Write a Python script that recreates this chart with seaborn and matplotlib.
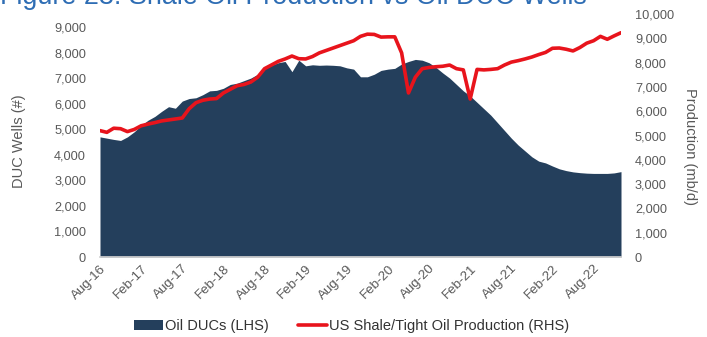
import numpy as np
import pandas as pd
import matplotlib
matplotlib.use("Agg")
import matplotlib.pyplot as plt
import seaborn as sns
from matplotlib.patches import Patch
from matplotlib.lines import Line2D

# ---- data ----
months = pd.date_range("2016-08-01", "2022-12-01", freq="MS")
duc_wells = [4700, 4650, 4600, 4560, 4700, 4900, 5150, 5350, 5500, 5700,
             5880, 5820, 6100, 6200, 6230, 6350, 6500, 6520, 6600, 6750,
             6800, 6900, 7000, 7150, 7350, 7500, 7600, 7650, 7250, 7700,
             7480, 7520, 7500, 7510, 7500, 7480, 7400, 7350, 7050, 7050,
             7150, 7300, 7350, 7380, 7550, 7650, 7730, 7700, 7600, 7420,
             7200, 7000, 6750, 6500, 6300, 6050, 5800, 5550, 5250, 4950,
             4650, 4380, 4150, 3920, 3750, 3680, 3560, 3450, 3380, 3330,
             3300, 3280, 3270, 3270, 3270, 3290, 3340]
production = [5200, 5130, 5300, 5280, 5160, 5250, 5400, 5470, 5530, 5600,
              5640, 5680, 5720, 6100, 6350, 6450, 6500, 6520, 6750, 6900,
              7050, 7100, 7200, 7400, 7750, 7900, 8050, 8150, 8270, 8160,
              8150, 8250, 8400, 8500, 8600, 8700, 8800, 8900, 9080, 9170,
              9160, 9050, 9060, 9060, 8400, 6750, 7400, 7750, 7800, 7830,
              7850, 7900, 7750, 7700, 6500, 7720, 7700, 7720, 7750, 7900,
              8020, 8080, 8150, 8230, 8330, 8420, 8590, 8600, 8550, 8480,
              8620, 8800, 8900, 9080, 8960, 9100, 9230]
left_ticks = [0, 1000, 2000, 3000, 4000, 5000, 6000, 7000, 8000, 9000]
right_ticks = [0, 1000, 2000, 3000, 4000, 5000, 6000, 7000, 8000, 9000, 10000]
title = "Figure 23: Shale Oil Production vs Oil DUC Wells"

df = pd.DataFrame({"idx": np.arange(len(months)), "month": months,
                   "duc": duc_wells, "prod": production})
tick_idx = list(range(0, len(months), 6))
tick_labels = [months[i].strftime("%b-%y") for i in tick_idx]

# ---- style ----
sns.set_theme(style="white")
plt.rcParams["font.family"] = ["Liberation Sans", "DejaVu Sans"]
gray = "#595959"
navy = "#243F5C"
red = "#E8141C"

fig = plt.figure(figsize=(7.07, 3.37), dpi=100)
ax = fig.add_axes([100/707, 1-257/337, 521/707, 243/337])

ax.fill_between(df["idx"], 0, df["duc"], color=navy, lw=0)
ax.set_xlim(0, len(months)-1)
ax.set_ylim(0, 9507)
ax.set_yticks(left_ticks)
ax.set_yticklabels([f"{v:,}" for v in left_ticks], color=gray, fontsize=9.2)
ax.set_xticks(tick_idx)
ax.set_xticklabels(tick_labels, rotation=45, ha="right", rotation_mode="anchor",
                   color=gray, fontsize=9.6)
ax.tick_params(axis="x", length=0, pad=4)
ax.tick_params(axis="y", length=0, pad=10)
for s in ["top", "right", "left"]:
    ax.spines[s].set_visible(False)
ax.spines["bottom"].set_color("#D0D0D0")
ax.set_ylabel("DUC Wells (#)", color=gray, fontsize=10.5, va="center")
ax.yaxis.set_label_coords(-0.156, 0.477)
ax.set_xlabel("")

ax2 = ax.twinx()
sns.lineplot(data=df, x="idx", y="prod", ax=ax2, color=red, lw=2.6)
ax2.set_ylim(0, 10000)
ax2.set_yticks(right_ticks)
ax2.set_yticklabels([f"{v:,}" for v in right_ticks], color=gray, fontsize=9.2)
ax2.tick_params(axis="y", length=0, pad=10)
for s in ["top", "right", "left", "bottom"]:
    ax2.spines[s].set_visible(False)
ax2.set_ylabel("Production (mb/d)", color=gray, fontsize=10.5, rotation=270,
               va="center")
ax2.yaxis.set_label_coords(1.132, 0.453)
ax2.set_xlabel("")
ax2.set_xlim(0, len(months)-1)

fig.text(0.0, 1-4.5/337, title, color="#2E6DB4", fontsize=19.4, va="baseline",
         ha="left")

handles = [Patch(facecolor=navy, edgecolor="none"),
           Line2D([0], [0], color=red, lw=2.6)]
fig.legend(handles, ["Oil DUCs (LHS)", "US Shale/Tight Oil Production (RHS)"],
           loc="center", bbox_to_anchor=(0.497, 0.032), ncol=2, frameon=False,
           fontsize=10.5, labelcolor="#333333", handlelength=2.0,
           handletextpad=0.15, columnspacing=2.0)

fig.savefig("out.png", dpi=100)
